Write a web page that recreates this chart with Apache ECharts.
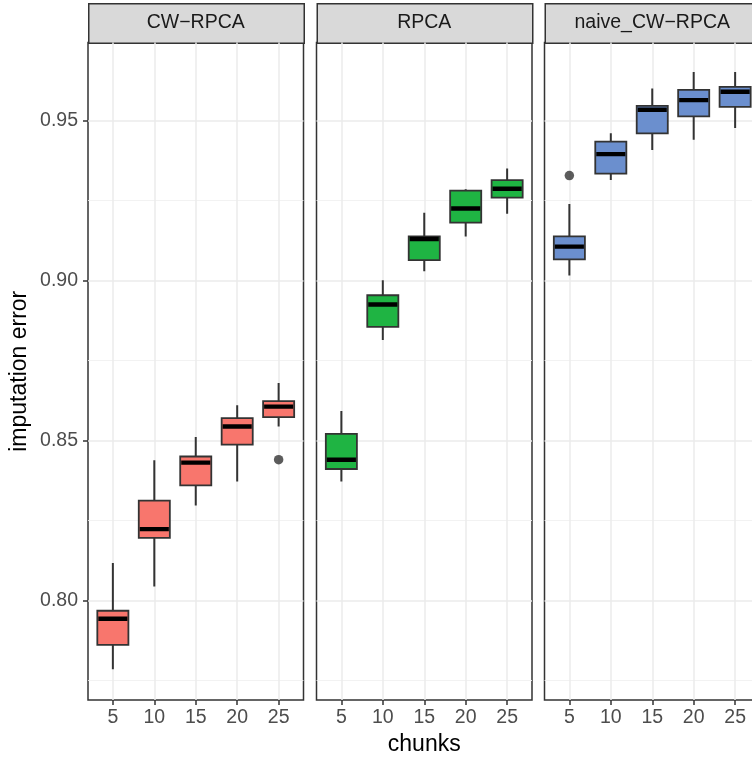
<!DOCTYPE html>
<html>
<head>
<meta charset="utf-8">
<script src="https://cdn.jsdelivr.net/npm/echarts@6/dist/echarts.min.js"></script>
<style>
  html, body { margin: 0; padding: 0; background: #fff; }
  #chart { width: 752px; height: 757px; }
</style>
</head>
<body>
<div id="chart"></div>
<script>
var myChart = echarts.init(document.getElementById('chart'));

// facets and x categories
var methods = ['CW\u2212RPCA', 'RPCA', 'naive_CW\u2212RPCA'];
var chunks = [5, 10, 15, 20, 25];
var yTicks = [0.80, 0.85, 0.90, 0.95];
var yMinor = [0.775, 0.825, 0.875, 0.925];

// box stats per chunk: [lower whisker, q1, median, q3, upper whisker]
var cwRpca = [
    [0.7785, 0.7861, 0.7943, 0.7968, 0.8117],
    [0.8044, 0.8196, 0.8223, 0.8312, 0.8438],
    [0.8297, 0.8360, 0.8431, 0.8450, 0.8511],
    [0.8372, 0.8487, 0.8544, 0.8570, 0.8610],
    [0.8544, 0.8573, 0.8606, 0.8623, 0.8680]
];
var rpca = [
    [0.8372, 0.8411, 0.8440, 0.8521, 0.8592],
    [0.8814, 0.8855, 0.8925, 0.8954, 0.9001],
    [0.9029, 0.9064, 0.9130, 0.9138, 0.9212],
    [0.9138, 0.9181, 0.9225, 0.9281, 0.9285],
    [0.9209, 0.9259, 0.9287, 0.9314, 0.9350]
];
var naiveCwRpca = [
    [0.9016, 0.9066, 0.9106, 0.9138, 0.9239],
    [0.9314, 0.9334, 0.9395, 0.9434, 0.9460],
    [0.9408, 0.9460, 0.9534, 0.9546, 0.9600],
    [0.9440, 0.9513, 0.9564, 0.9596, 0.9652],
    [0.9477, 0.9543, 0.9590, 0.9605, 0.9652]
];
// outliers: [chunk, value]
var cwRpcaOut = [[25, 0.8440]];
var rpcaOut = [];
var naiveOut = [[5, 0.9328]];

var boxes = [cwRpca, rpca, naiveCwRpca];
var outs = [cwRpcaOut, rpcaOut, naiveOut];
var fills = ['#F8766D', '#1FB443', '#6B8FCE'];

var font = 'Liberation Sans, Arial, sans-serif';
var panelLeft = [88, 316.5, 544.5];
var panelTop = 42.5, panelW = 215.5, panelH = 657.5;
var boxWidth = 0.75 * 5;   // in chunk units (categories are 5 apart)

var renderBox = function (color) {
    return function (params, api) {
        var x = api.value(0);
        var lo = api.coord([x, api.value(1)]);
        var q1 = api.coord([x, api.value(2)]);
        var md = api.coord([x, api.value(3)]);
        var q3 = api.coord([x, api.value(4)]);
        var hi = api.coord([x, api.value(5)]);
        var w = api.size([boxWidth, 0])[0];
        var ln = {stroke: '#333333', lineWidth: 2};
        return {
            type: 'group',
            children: [
                {type: 'line', shape: {x1: lo[0], y1: lo[1], x2: q1[0], y2: q1[1]}, style: ln},
                {type: 'line', shape: {x1: q3[0], y1: q3[1], x2: hi[0], y2: hi[1]}, style: ln},
                {type: 'rect', shape: {x: q3[0] - w / 2, y: q3[1], width: w, height: q1[1] - q3[1]},
                    style: {fill: color, stroke: '#333333', lineWidth: 1.8}},
                {type: 'line', shape: {x1: md[0] - w / 2 + 1, y1: md[1], x2: md[0] + w / 2 - 1, y2: md[1]},
                    style: {stroke: '#000000', lineWidth: 4.4}}
            ]
        };
    };
};

var grids = [], xAxes = [], yAxes = [], series = [], graphics = [];
for (var i = 0; i < 3; i++) {
    grids.push({
        left: panelLeft[i], top: panelTop, width: panelW, height: panelH,
        outerBoundsMode: 'none', containLabel: false,
        show: true, borderColor: '#333333', borderWidth: 1.5, backgroundColor: '#fff'
    });
    xAxes.push({
        type: 'value', gridIndex: i, min: 2, max: 28,
        name: i === 1 ? 'chunks' : '',
        nameLocation: 'middle', nameGap: 31,
        nameTextStyle: {color: '#000', fontSize: 23, fontFamily: font},
        axisLine: {show: false},
        axisTick: {show: true, customValues: chunks, length: 5, lineStyle: {color: '#333333', width: 1.5}},
        axisLabel: {customValues: chunks, color: '#4D4D4D', fontSize: 19.5, fontFamily: font, margin: 8},
        splitLine: {show: true, lineStyle: {color: '#EBEBEB', width: 1.5}}
    });
    yAxes.push({
        type: 'value', gridIndex: i, min: 0.7689, max: 0.9744,
        name: i === 0 ? 'imputation error' : '',
        nameLocation: 'middle', nameGap: 57, nameRotate: 90,
        nameTextStyle: {color: '#000', fontSize: 23, fontFamily: font},
        axisLine: {show: false},
        axisTick: {show: i === 0, customValues: yTicks, length: 5, lineStyle: {color: '#333333', width: 1.5}},
        axisLabel: {show: i === 0, customValues: yTicks, color: '#4D4D4D', fontSize: 19.5, fontFamily: font, margin: 10,
            formatter: function (v) { return v.toFixed(2); }},
        splitLine: {show: true, lineStyle: {color: '#EBEBEB', width: 1.5}}
    });
    yAxes.push({
        type: 'value', gridIndex: i, min: 0.7689, max: 0.9744, position: 'left',
        axisLine: {show: false},
        axisTick: {show: false, customValues: yMinor},
        axisLabel: {show: false, customValues: yMinor},
        splitLine: {show: true, lineStyle: {color: '#F0F0F0', width: 0.9}}
    });
    var data = [];
    for (var j = 0; j < chunks.length; j++) {
        data.push([chunks[j]].concat(boxes[i][j]));
    }
    series.push({
        type: 'custom', xAxisIndex: i, yAxisIndex: 2 * i,
        renderItem: renderBox(fills[i]),
        encode: {x: 0, y: [1, 2, 3, 4, 5]},
        data: data, clip: true, silent: true, z: 3
    });
    series.push({
        type: 'scatter', xAxisIndex: i, yAxisIndex: 2 * i,
        data: outs[i], symbolSize: 9.5,
        itemStyle: {color: '#333333'}, silent: true, z: 4
    });
    // facet strip
    graphics.push({
        type: 'rect', left: panelLeft[i], top: 3,
        shape: {width: panelW, height: panelTop - 3},
        style: {fill: '#D9D9D9', stroke: '#333333', lineWidth: 1.5}
    });
    graphics.push({
        type: 'text', x: panelLeft[i] + panelW / 2, y: (panelTop + 3) / 2,
        style: {text: methods[i], fill: '#1A1A1A', fontSize: 19.5, fontFamily: font,
            textAlign: 'center', textVerticalAlign: 'middle'}
    });
}

option = {
    backgroundColor: '#ffffff',
    animation: false,
    grid: grids,
    xAxis: xAxes,
    yAxis: yAxes,
    series: series,
    graphic: graphics
};
myChart.setOption(option);
</script>
</body>
</html>
